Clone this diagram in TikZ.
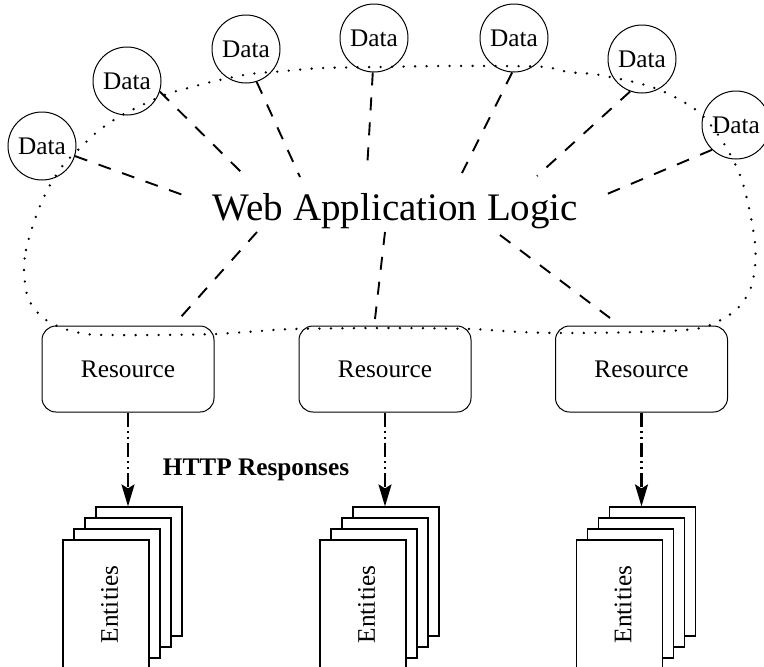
\documentclass[tikz,border=0pt]{standalone}
\usepackage{fontspec}
\setmainfont{Liberation Serif}
\usetikzlibrary{arrows.meta}
\begin{document}
\begin{tikzpicture}[x=1pt,y=-1pt,
  datanode/.style={circle,draw,line width=1pt,minimum size=68pt,inner sep=0pt,font=\fontsize{25.3}{30}\selectfont},
  resnode/.style={draw,rounded corners=14pt,line width=1pt,minimum width=172pt,minimum height=86pt,inner sep=0pt,font=\fontsize{25.3}{30}\selectfont},
  sheet/.style={draw,fill=white,line width=1.2pt,minimum width=86pt,minimum height=129pt,inner sep=0pt},
  dashline/.style={line width=1.9pt,dash pattern=on 13pt off 12pt},
  cloudline/.style={line width=2.6pt,line cap=round,dash pattern=on 0pt off 11.5pt},
  resp/.style={line width=2.2pt,dash pattern=on 14pt off 4pt on 2.2pt off 4pt on 2.2pt off 4pt,-{Stealth[length=22pt,width=13pt,inset=4pt]}},
  lbl/.style={font=\fontsize{25.3}{30}\selectfont,inner sep=0pt}
]
\useasboundingbox (0,0) rectangle (764,667);
\clip (0,0) rectangle (764,667);

% dotted cloud
\draw[cloudline] plot[smooth cycle, tension=0.5] coordinates {
(24,270) (26,250) (32,228) (40,206) (50,185) (64,164) (79,149) (97,132) (117,118) (140,106) (167,94) (192,87) (215,81) (250,74) (285,71) (322,68) (380,67) (440,66) (500,66) (545,67) (568,72) (593,74) (615,78) (638,83) (660,90) (682,101) (702,115) (723,142) (740,175) (749,208) (755,243) (755,267) (750,290) (737,309) (717,322) (695,329) (640,332) (565,333) (520,332) (470,329) (385,328) (293,329) (260,331) (215,334) (160,335) (109,335) (86,334) (62,328) (42,317) (28,298)};

% data circles
\node[datanode] (d1) at (42,146) {Data};
\node[datanode] (d2) at (127,81) {Data};
\node[datanode] (d3) at (246,49) {Data};
\node[datanode] (d4) at (374,38) {Data};
\node[datanode] (d5) at (514,38) {Data};
\node[datanode] (d6) at (642,59) {Data};
\node[datanode] (d7) at (736,125) {Data};

% central text
\node[font=\fontsize{39}{46}\selectfont,anchor=base,inner sep=0pt] (logic) at (395.5,220) {Web Application Logic};

% resources
\node[resnode] (r1) at (128,369) {Resource};
\node[resnode] (r2) at (385,369) {Resource};
\node[resnode] (r3) at (641.5,369) {Resource};

% dashed connectors
\coordinate (e1) at (183,195);
\coordinate (e2) at (242,173);
\coordinate (e3) at (300,177);
\coordinate (e4) at (367,170);
\coordinate (e5) at (462,173);
\coordinate (e6) at (537,176);
\coordinate (e7) at (600,197);
\draw[dashline] (d1.-17) -- (e1);
\draw[dashline] (d2.-18) -- (e2);
\draw[dashline] (d3.-72) -- (e3);
\draw[dashline] (d4.-92) -- (e4);
\draw[dashline] (d5.-93) -- (e5);
\draw[dashline] (d6.-110) -- (e6);
\draw[dashline] (d7.-134) -- (e7);

\coordinate (f1) at (257,232);
\coordinate (g1) at (180,318);
\coordinate (f2) at (385,232);
\coordinate (g2) at (375,319);
\coordinate (f3) at (500,235);
\coordinate (g3) at (610,318);
\draw[dashline] (f1) -- (g1);
\draw[dashline] (f2) -- (g2);
\draw[dashline] (f3) -- (g3);

% entity stacks
\foreach \ox/\k in {0/1,257/2,513.5/3}{
  \node[sheet] (b\k) at (139+\ox,571.5) {};
  \node[sheet] (c\k) at (128+\ox,582.5) {};
  \node[sheet] (s\k) at (117+\ox,593.5) {};
  \node[sheet] (f\k) at (106+\ox,604.5) {};
  \node[lbl,rotate=90] (t\k) at (109.5+\ox,604.5) {Entities};
}

% response arrows
\draw[resp] (r1.south) -- (r1.south |- b1.north);
\draw[resp] (r2.south) -- (r2.south |- b2.north);
\draw[resp] (r3.south) -- (r3.south |- b3.north);

\node[lbl,font=\fontsize{25.3}{30}\selectfont\bfseries,anchor=base] (http) at (256,475) {HTTP Responses};
\end{tikzpicture}
\end{document}
